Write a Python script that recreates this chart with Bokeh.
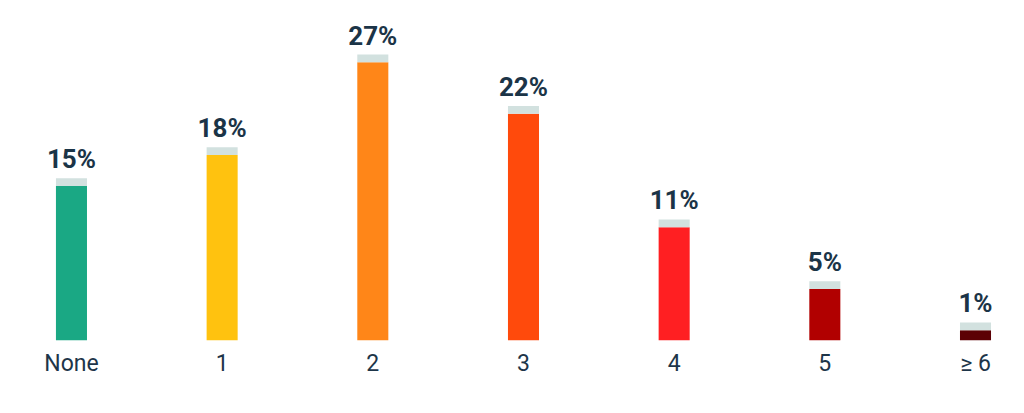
from bokeh.plotting import figure
from bokeh.models import Range1d, FixedTicker, ColumnDataSource
from bokeh.embed import file_html
from bokeh.resources import INLINE
from bokeh.core.properties import value

categories = ["None", "1", "2", "3", "4", "5", "\u2265 6"]
percent = [15, 18, 27, 22, 11, 5, 1]
colors = ["#1aa884", "#ffc20f", "#ff8618", "#ff4a0c", "#ff1f22", "#b10000", "#5c0005"]

CAP = 0.75  # height of the light cap on top of each bar (data units)

xs = list(range(len(categories)))
src = ColumnDataSource(dict(
    x=xs,
    top=percent,
    cap_top=[v + CAP for v in percent],
    color=colors,
    label=[f"{v}%" for v in percent],
))

p = figure(width=1008, height=397, output_backend="svg", toolbar_location=None,
           x_range=Range1d(-0.471, 6.219), y_range=Range1d(0, 33.0),
           y_axis_location=None, min_border_left=0, min_border_right=0,
           min_border_top=0, min_border_bottom=57)
p.outline_line_color = None
p.grid.visible = False
p.background_fill_color = "white"

p.vbar(x="x", width=0.206, bottom=0, top="top", fill_color="color", line_color=None, source=src)
p.vbar(x="x", width=0.206, bottom="top", top="cap_top", fill_color="#d2e1df", line_color=None, source=src)

p.text(x="x", y="cap_top", text="label", source=src, text_align="center", text_baseline="alphabetic",
       y_offset=-19, text_font=value("Roboto"), text_font_style="bold",
       text_font_size="26px", text_color="#1b3447")

ax = p.xaxis[0]
ax.ticker = FixedTicker(ticks=xs)
ax.major_label_overrides = {i: c for i, c in zip(xs, categories)}
ax.axis_line_color = None
ax.major_tick_line_color = None
ax.minor_tick_line_color = None
ax.major_tick_out = 0
ax.major_tick_in = 0
ax.major_label_standoff = 9
ax.major_label_text_font = "Roboto"
ax.major_label_text_font_style = "normal"
ax.major_label_text_font_size = "23px"
ax.major_label_text_color = "#1d3549"

open("out.html", "w").write(file_html(p, INLINE))
